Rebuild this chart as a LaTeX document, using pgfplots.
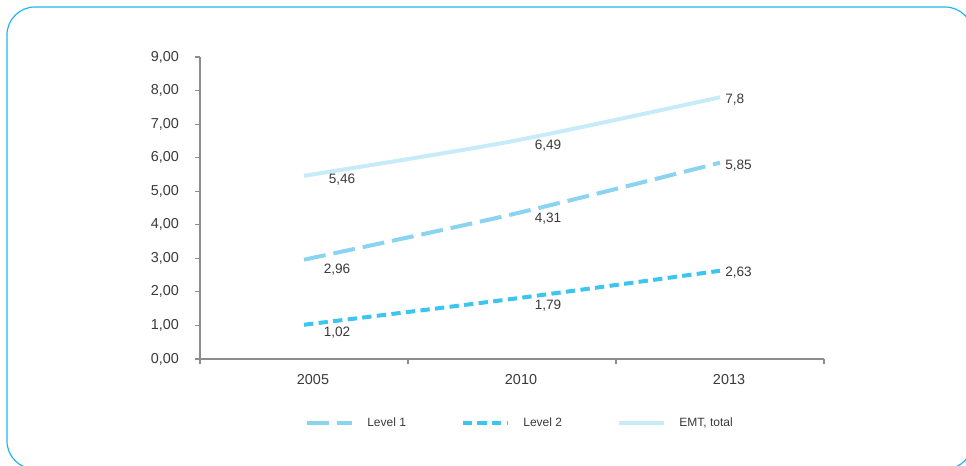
\documentclass[border=0pt]{standalone}
\usepackage{fontspec}
\setmainfont{Liberation Sans}
\usepackage{pgfplots}
\pgfplotsset{compat=1.18}
\definecolor{lvlone}{HTML}{8AD4F2}
\definecolor{lvltwo}{HTML}{3CC5EF}
\definecolor{emt}{HTML}{C8EBF9}
\definecolor{framec}{HTML}{1FB6EE}
\definecolor{txt}{HTML}{3A3A3A}
\definecolor{axgray}{HTML}{8C8C8C}
\begin{document}
\begin{tikzpicture}
\useasboundingbox (0,0) rectangle (724.5pt,-349.5pt);
\begin{scope}
\clip (0,0) rectangle (724.5pt,-349.5pt);
\draw[framec, line width=0.9pt, rounded corners=21pt] (5.25pt,-5.25pt) rectangle (729.75pt,-351.75pt);
\end{scope}
\begin{axis}[
  at={(150pt,-269.25pt)}, anchor=south west,
  scale only axis, width=468pt, height=226.5pt,
  xmin=-0.5, xmax=2.5, ymin=0, ymax=9,
  axis x line*=bottom, axis y line*=left,
  axis line style={axgray, line width=0.8pt},
  xtick={0,1,2}, xticklabels={2005,2010,2013},
  minor xtick={-0.5,0.5,1.5,2.5},
  ytick={0,1,...,9},
  tick align=outside,
  major tick length=3.75pt, minor tick length=3.75pt,
  every major x tick/.append style={draw=none},
  tick style={axgray, line width=0.8pt},
  /pgf/number format/assume math mode=true,
  /pgf/number format/fixed,
  /pgf/number format/fixed zerofill,
  /pgf/number format/precision=2,
  /pgf/number format/use comma,
  ticklabel style={font=\fontsize{10.8}{12}\selectfont, text=txt},
  yticklabel style={xshift=-8.5pt},
  xticklabel style={xshift=6.75pt, yshift=-4pt},
  legend style={draw=none, at={(0.5,0)}, anchor=center, xshift=6pt, yshift=-48pt,
    font=\fontsize{9}{10}\selectfont, text=txt, legend columns=3,
    /tikz/every even column/.append style={column sep=39pt}},
  legend image code/.code={\draw[#1] (0pt,0pt) -- (33.75pt,0pt); \path (42pt,0pt);},
  clip=false,
]
\addplot[lvlone, line width=3pt, dash pattern=on 16.5pt off 6pt, smooth] coordinates {(0,2.96) (1,4.31) (2,5.85)};
\addlegendentry{Level 1}
\addplot[lvltwo, line width=3pt, dash pattern=on 7pt off 4pt, smooth] coordinates {(0,1.02) (1,1.79) (2,2.63)};
\addlegendentry{Level 2}
\addplot[emt, line width=3pt, smooth] coordinates {(0,5.46) (1,6.49) (2,7.8)};
\addlegendentry{EMT, total}

\begin{scope}[every node/.style={font=\fontsize{10.2}{12}\selectfont, text=txt, inner sep=0pt}]
\node[xshift=28.5pt, yshift=-3.2pt] at (axis cs:0,5.46) {5,46};
\node[xshift=24.75pt, yshift=-7.7pt] at (axis cs:0,2.96) {2,96};
\node[xshift=24.75pt, yshift=-6.2pt] at (axis cs:0,1.02) {1,02};
\node[xshift=27pt, yshift=-3.6pt] at (axis cs:1,6.49) {6,49};
\node[xshift=27pt, yshift=-3.5pt] at (axis cs:1,4.31) {4,31};
\node[xshift=27pt, yshift=-5.3pt] at (axis cs:1,1.79) {1,79};
\node[anchor=west, xshift=3.75pt, yshift=-1.4pt] at (axis cs:2,7.8) {7,8};
\node[anchor=west, xshift=3.75pt, yshift=-2.5pt] at (axis cs:2,5.85) {5,85};
\node[anchor=west, xshift=3.75pt, yshift=-1.7pt] at (axis cs:2,2.63) {2,63};
\end{scope}
\end{axis}
\end{tikzpicture}
\end{document}
